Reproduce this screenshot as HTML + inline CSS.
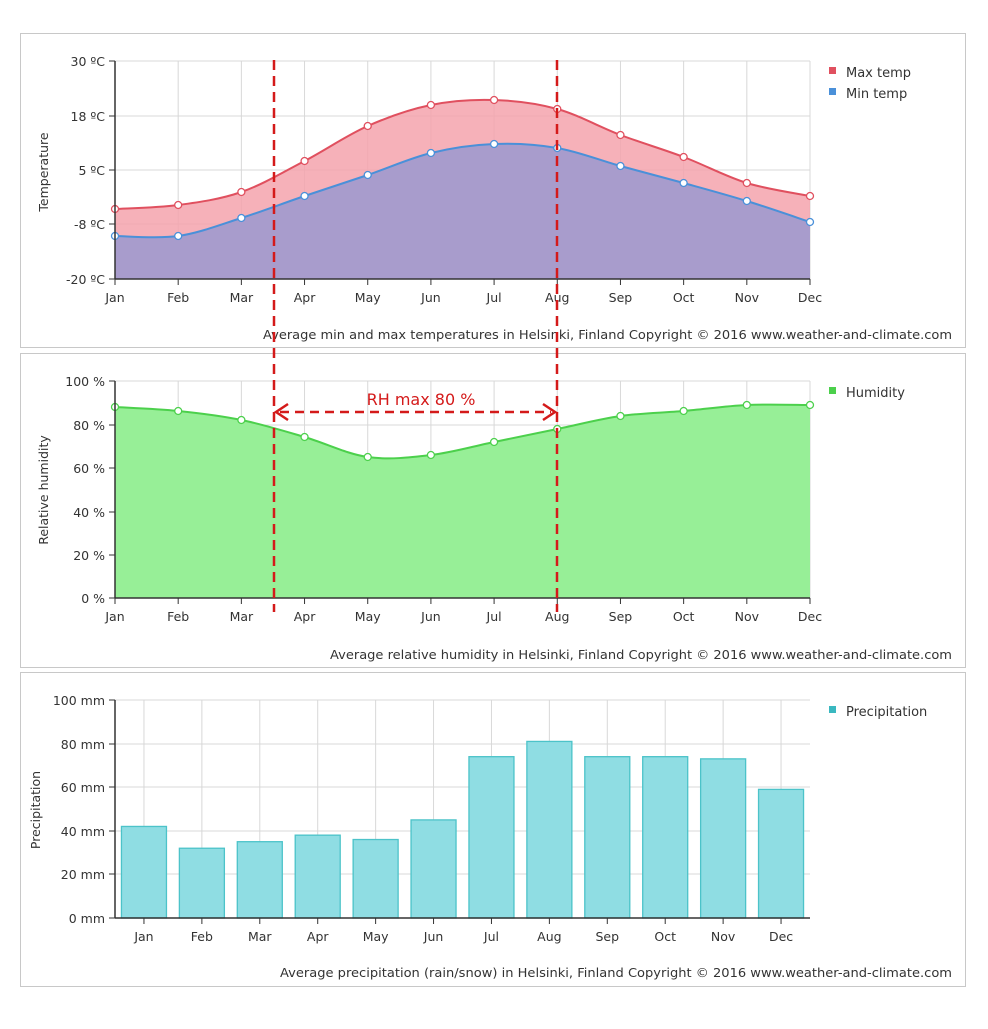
<!DOCTYPE html>
<html><head><meta charset="utf-8"><style>
body{margin:0;background:#fff;width:988px;height:1024px;overflow:hidden}
svg{font-family:"DejaVu Sans","Liberation Sans",sans-serif}
</style></head><body>
<svg id="s" width="988" height="1024" xmlns="http://www.w3.org/2000/svg"></svg>
<script>
const S=document.getElementById('s');let h='';
const M=['Jan','Feb','Mar','Apr','May','Jun','Jul','Aug','Sep','Oct','Nov','Dec'];
const X0=115,X1=810,dx=(X1-X0)/11;
function smooth(p){let d=`M${p[0][0]},${p[0][1]}`;for(let i=0;i<p.length-1;i++){const a=p[i-1]||p[i],b=p[i],c=p[i+1],e=p[i+2]||c;const t=6;d+=` C${b[0]+(c[0]-a[0])/t},${b[1]+(c[1]-a[1])/t} ${c[0]-(e[0]-b[0])/t},${c[1]-(e[1]-b[1])/t} ${c[0]},${c[1]}`;}return d;}
function panel(y){h+=`<rect x="20.5" y="${y+.5}" width="945" height="314" fill="#fff" stroke="#c8c8c8"/>`;}
function grid(y0,y1,ys,labels,vx){for(let i=0;i<ys.length;i++){h+=`<line x1="${X0}" x2="${X1}" y1="${ys[i]}" y2="${ys[i]}" stroke="#d8d8d8"/><line x1="${X0-6}" x2="${X0}" y1="${ys[i]}" y2="${ys[i]}" stroke="#333"/><text x="${X0-10}" y="${ys[i]+5}" font-size="12.5" fill="#333" text-anchor="end">${labels[i]}</text>`;}
for(const x of vx)h+=`<line x1="${x}" x2="${x}" y1="${y0}" y2="${y1}" stroke="#d8d8d8"/>`;}
function axes(y0,y1,lx,title,ty){h+=`<line x1="${X0}" x2="${X0}" y1="${y0}" y2="${y1}" stroke="#333" stroke-width="1.5"/><line x1="${X0}" x2="${X1}" y1="${y1}" y2="${y1}" stroke="#333" stroke-width="1.5"/>`;
lx.forEach((x,i)=>{h+=`<line x1="${x}" x2="${x}" y1="${y1}" y2="${y1+6}" stroke="#333"/><text x="${x}" y="${y1+23}" font-size="12.5" fill="#333" text-anchor="middle">${M[i]}</text>`});
h+=`<text transform="translate(${ty[0]},${ty[1]}) rotate(-90)" font-size="12.5" fill="#333" text-anchor="middle">${title}</text>`;}
function leg(y,c,t){h+=`<rect x="829" y="${y-5}" width="7" height="7" fill="${c}"/><text x="846" y="${y+5}" font-size="13" fill="#333">${t}</text>`;}
function cap(y,x,t){h+=`<text x="${x}" y="${y}" font-size="12.5" fill="#333" textLength="${952-x}" lengthAdjust="spacingAndGlyphs">${t}    Copyright © 2016 www.weather-and-climate.com</text>`;}
const mx=M.map((_,i)=>X0+i*dx);
panel(33);
grid(61,279,[61,116,170,224,279],['30 ºC','18 ºC','5 ºC','-8 ºC','-20 ºC'],mx);
let mxT=[209,205,192,161,126,105,100,109,135,157,183,196].map((y,i)=>[mx[i],y]);
let mnT=[236,236,218,196,175,153,144,148,166,183,201,222].map((y,i)=>[mx[i],y]);
h+=`<path d="${smooth(mxT)} L${X1},279 L${X0},279Z" fill="#f4a3ad" fill-opacity=".85"/>`;
h+=`<path d="${smooth(mnT)} L${X1},279 L${X0},279Z" fill="#a89ccc"/>`;
h+=`<path d="${smooth(mxT)}" fill="none" stroke="#e0505f" stroke-width="2"/><path d="${smooth(mnT)}" fill="none" stroke="#4a90d9" stroke-width="2"/>`;
mxT.forEach(p=>h+=`<circle cx="${p[0]}" cy="${p[1]}" r="3.5" fill="#fff" stroke="#e0505f" stroke-width="1.3"/>`);
mnT.forEach(p=>h+=`<circle cx="${p[0]}" cy="${p[1]}" r="3.5" fill="#fff" stroke="#4a90d9" stroke-width="1.3"/>`);
axes(61,279,mx,'Temperature',[48,172]);
leg(72,'#e0505f','Max temp');leg(93,'#4a90d9','Min temp');
cap(339,263,'Average min and max temperatures in Helsinki, Finland');
panel(353);
grid(381,598,[381,425,468,512,555,598],['100 %','80 %','60 %','40 %','20 %','0 %'],mx);
let hu=[407,411,420,437,457,455,442,429,416,411,405,405].map((y,i)=>[mx[i],y]);
h+=`<path d="${smooth(hu)} L${X1},598 L${X0},598Z" fill="#97ef97"/><path d="${smooth(hu)}" fill="none" stroke="#4cd04c" stroke-width="2"/>`;
hu.forEach(p=>h+=`<circle cx="${p[0]}" cy="${p[1]}" r="3.5" fill="#fff" stroke="#4cd04c" stroke-width="1.3"/>`);
axes(381,598,mx,'Relative humidity',[48,490]);
leg(392,'#4cd04c','Humidity');
cap(659,330,'Average relative humidity in Helsinki, Finland');
panel(672);
const bw=(X1-X0)/12;const bx=M.map((_,i)=>X0+bw*(i+.5));
grid(700,918,[700,744,787,831,874,918],['100 mm','80 mm','60 mm','40 mm','20 mm','0 mm'],bx);
[42,32,35,38,36,45,74,81,74,74,73,59].forEach((v,i)=>{const y=918-v*2.18;h+=`<rect x="${bx[i]-22.5}" y="${y}" width="45" height="${918-y}" fill="#8fdde3" stroke="#4cc3c9" stroke-width="1.3"/>`});
axes(700,918,bx,'Precipitation',[40,810]);
leg(711,'#3ab8c0','Precipitation');
cap(977,280,'Average precipitation (rain/snow) in Helsinki, Finland');
h+=`<line x1="274" x2="274" y1="60" y2="612" stroke="#d41a1a" stroke-width="2.5" stroke-dasharray="10,6"/><line x1="557" x2="557" y1="60" y2="612" stroke="#d41a1a" stroke-width="2.5" stroke-dasharray="10,6"/>`;
h+=`<line x1="280" x2="551" y1="412" y2="412" stroke="#d41a1a" stroke-width="2.5" stroke-dasharray="9,6"/><path d="M288,404 L276,412 L288,420 M543,404 L555,412 L543,420" fill="none" stroke="#d41a1a" stroke-width="2.5"/>`;
h+=`<text x="421" y="405" font-size="16" fill="#d41a1a" text-anchor="middle">RH max 80 %</text>`;
S.innerHTML=h;
</script>
</body></html>
